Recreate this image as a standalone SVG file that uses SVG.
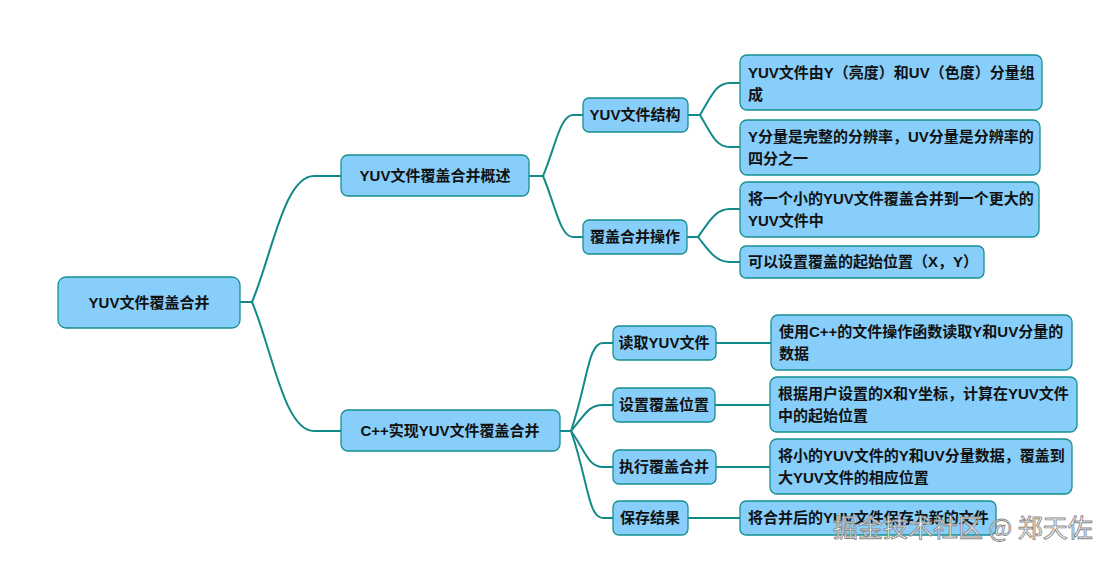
<svg xmlns="http://www.w3.org/2000/svg" width="1111" height="561" viewBox="0 0 1111 561">
<style>
.n{fill:#87cefa;stroke:#16908e;stroke-width:1.3}
.t{font-family:"Liberation Sans","Noto Sans CJK SC",sans-serif;font-size:15px;font-weight:bold;fill:#111}
.c{fill:none;stroke:#138a8a;stroke-width:2}
.w{font-family:"Noto Sans CJK SC",sans-serif;font-size:25px;fill:#fff;fill-opacity:0.85;stroke:#8a8a8a;stroke-width:0.9}
</style>
<rect width="1111" height="561" fill="#fff"/>
<g id="connectors">
<path class="c" d="M240,302 H252 C272,255 284,176 314,176 H341"/>
<path class="c" d="M240,302 H252 C272,349 284,431 314,431 H341"/>
<path class="c" d="M529,176 H543 C555,148 560,115 573,115 H583"/>
<path class="c" d="M529,176 H543 C555,204 560,237 573,237 H583"/>
<path class="c" d="M688,115 H700 C712,95 716,83 730,83 H740"/>
<path class="c" d="M688,115 H700 C712,135 716,147 730,147 H740"/>
<path class="c" d="M687,237 H698 C710,220 716,209 730,209 H740"/>
<path class="c" d="M687,237 H698 C710,252 716,262 730,262 H740"/>
<path class="c" d="M560,431 H571 C588,380 588,343 603,343 H613"/>
<path class="c" d="M560,431 H571 C585,415 588,405 603,405 H613"/>
<path class="c" d="M560,431 H571 C585,450 588,467 603,467 H613"/>
<path class="c" d="M560,431 H571 C588,480 588,518 603,518 H613"/>
<path class="c" d="M716,343 H771"/>
<path class="c" d="M715,405 H770"/>
<path class="c" d="M716,467 H770"/>
<path class="c" d="M688,518 H740"/>
</g>
<g id="root"><rect class="n" x="58" y="277" width="182" height="51" rx="8"/><text class="t" x="149" y="308" text-anchor="middle">YUV文件覆盖合并</text></g>
<g id="overview"><rect class="n" x="341" y="155" width="188" height="41" rx="7"/><text class="t" x="435" y="181" text-anchor="middle">YUV文件覆盖合并概述</text></g>
<g id="impl"><rect class="n" x="341" y="410" width="219" height="41" rx="7"/><text class="t" x="450" y="436" text-anchor="middle">C++实现YUV文件覆盖合并</text></g>
<g id="structure"><rect class="n" x="583" y="98" width="105" height="34" rx="6"/><text class="t" x="635" y="120" text-anchor="middle">YUV文件结构</text></g>
<g id="operation"><rect class="n" x="583" y="220" width="104" height="34" rx="6"/><text class="t" x="635" y="242" text-anchor="middle">覆盖合并操作</text></g>
<g id="s1"><rect class="n" x="740" y="55" width="302" height="55" rx="7"/><text class="t" x="748" y="78">YUV文件由Y（亮度）和UV（色度）分量组</text><text class="t" x="748" y="100">成</text></g>
<g id="s2"><rect class="n" x="740" y="120" width="300" height="55" rx="7"/><text class="t" x="748" y="142">Y分量是完整的分辨率，UV分量是分辨率的</text><text class="t" x="748" y="164">四分之一</text></g>
<g id="o1"><rect class="n" x="740" y="182" width="299" height="55" rx="7"/><text class="t" x="748" y="204">将一个小的YUV文件覆盖合并到一个更大的</text><text class="t" x="748" y="226">YUV文件中</text></g>
<g id="o2"><rect class="n" x="740" y="246" width="244" height="32" rx="6"/><text class="t" x="748" y="267">可以设置覆盖的起始位置（X，Y）</text></g>
<g id="read"><rect class="n" x="613" y="326" width="103" height="34" rx="6"/><text class="t" x="664" y="348" text-anchor="middle">读取YUV文件</text></g>
<g id="setpos"><rect class="n" x="613" y="388" width="102" height="34" rx="6"/><text class="t" x="664" y="410" text-anchor="middle">设置覆盖位置</text></g>
<g id="exec"><rect class="n" x="613" y="450" width="103" height="34" rx="6"/><text class="t" x="664" y="472" text-anchor="middle">执行覆盖合并</text></g>
<g id="save"><rect class="n" x="613" y="501" width="75" height="34" rx="6"/><text class="t" x="650" y="523" text-anchor="middle">保存结果</text></g>
<g id="r1"><rect class="n" x="771" y="315" width="301" height="55" rx="7"/><text class="t" x="779" y="337">使用C++的文件操作函数读取Y和UV分量的</text><text class="t" x="779" y="359">数据</text></g>
<g id="p1"><rect class="n" x="770" y="377" width="307" height="55" rx="7"/><text class="t" x="778" y="399">根据用户设置的X和Y坐标，计算在YUV文件</text><text class="t" x="778" y="421">中的起始位置</text></g>
<g id="e1"><rect class="n" x="770" y="439" width="302" height="55" rx="7"/><text class="t" x="778" y="461">将小的YUV文件的Y和UV分量数据，覆盖到</text><text class="t" x="778" y="483">大YUV文件的相应位置</text></g>
<g id="v1"><rect class="n" x="740" y="501" width="256" height="34" rx="6"/><text class="t" x="748" y="523">将合并后的YUV文件保存为新的文件</text></g>
<text class="w" x="833" y="537">掘金技术社区 @ 郑天佐</text>
</svg>
